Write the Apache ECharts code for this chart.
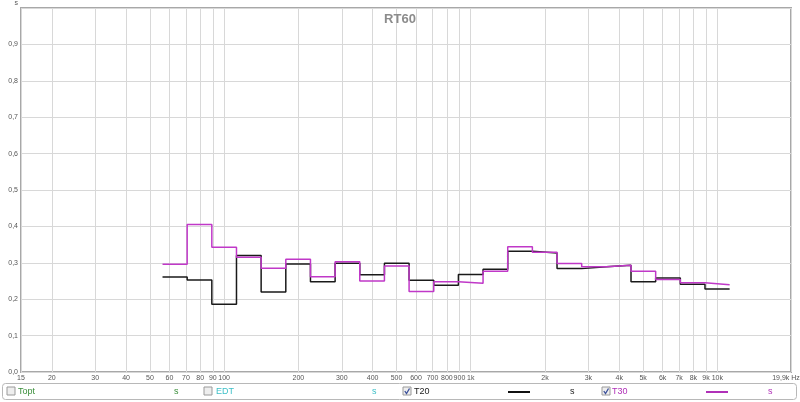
<!DOCTYPE html>
<html><head><meta charset="utf-8">
<script src="https://cdn.jsdelivr.net/npm/echarts@6/dist/echarts.min.js"></script>
<style>html,body{margin:0;padding:0;background:#fff}#c{width:800px;height:402px}</style>
</head><body><div id="c"></div><script>
// 1/3-octave band nominal centre frequencies (Hz)
const bands = [63,80,100,125,160,200,250,315,400,500,630,800,1000,1250,1600,2000,2500,3150,4000,5000,6300,8000,10000];
// RT60 values (s)
const t20 = [0.261,0.253,0.186,0.320,0.220,0.297,0.248,0.299,0.267,0.299,0.252,0.238,0.268,0.282,0.332,0.327,0.284,0.289,0.293,0.248,0.258,0.241,0.228];
const t30 = [0.296,0.405,0.343,0.315,0.285,0.310,0.262,0.303,0.250,0.291,0.221,0.248,0.244,0.277,0.344,0.329,0.298,0.289,0.293,0.277,0.254,0.245,0.240];
// axis ticks
const xTicks = [15,20,30,40,50,60,70,80,90,100,200,300,400,500,600,700,800,900,1000,2000,3000,4000,5000,6000,7000,8000,9000,10000,19900];
const xTickLabels = ['15','20','30','40','50','60','70','80','90','100','200','300','400','500','600','700','800','900','1k','2k','3k','4k','5k','6k','7k','8k','9k','10k','19,9k Hz'];
const yTickLabels = ['0,0','0,1','0,2','0,3','0,4','0,5','0,6','0,7','0,8','0,9','s'];

function exactCentre(f){ return 1000*Math.pow(10, Math.round(10*Math.log10(f/1000))/10); }
function stepData(vals){
  const d = bands.map((f,i)=>[exactCentre(f)*Math.pow(10,-0.05), vals[i]]);
  const last = bands.length-1;
  d.push([exactCentre(bands[last])*Math.pow(10,0.05), vals[last]]);
  return d;
}
const FONT = 'Liberation Sans, Arial, sans-serif';
const chart = echarts.init(document.getElementById('c'), null, {renderer:'canvas'});

function cb(x, checked){
  const els = [{type:'rect', shape:{x:x, y:387, width:8, height:8}, style:{fill:'#eeeeee', stroke:'#9a9a9a', lineWidth:1}}];
  if (checked) els.push({type:'polyline', shape:{points:[[x+1.8,391],[x+3.5,393.5],[x+6.5,388.5]]}, style:{stroke:'#3a4f9a', lineWidth:1.3, fill:null}});
  return els;
}
function txt(x, s, color){ return {type:'text', x:x, y:391.5, style:{text:s, fill:color, font:'9px '+FONT, textVerticalAlign:'middle', verticalAlign:'middle'}}; }

const graphics = [
  {type:'rect', shape:{x:2.5, y:383.5, width:794, height:16, r:3}, style:{fill:'#fff', stroke:'#b8b8b8', lineWidth:1}},
  ...cb(7,false), txt(18,'Topt','#3b8f3b'), txt(174,'s','#3b8f3b'),
  ...cb(204,false), txt(216,'EDT','#3fc0c8'), txt(372,'s','#3fc0c8'),
  ...cb(403,true), txt(414,'T20','#222'), {type:'line', shape:{x1:508,y1:392,x2:530,y2:392}, style:{stroke:'#111', lineWidth:2}}, txt(570,'s','#222'),
  ...cb(602,true), txt(612,'T30','#b030b8'), {type:'line', shape:{x1:706,y1:392,x2:728,y2:392}, style:{stroke:'#b030b8', lineWidth:2}}, txt(768,'s','#b030b8')
];

chart.setOption({
  animation:false,
  backgroundColor:'#fff',
  title:{text:'RT60', left:'center', top:8, textStyle:{color:'#8c8c8c', fontSize:13, fontWeight:'bold', fontFamily:FONT}},
  grid:{left:21, right:9, top:8, bottom:30, show:true, borderColor:'#a8a8a8', borderWidth:2, backgroundColor:'#fff', containLabel:false, outerBoundsMode:'none'},
  xAxis:{type:'log', logBase:10, min:15, max:19900,
    axisLine:{show:false},
    axisTick:{show:false, customValues:xTicks},
    axisLabel:{customValues:xTicks, color:'#555', fontSize:7, fontFamily:FONT, margin:3, showMinLabel:true, showMaxLabel:true, hideOverlap:false,
      rich:{last:{fontSize:7, color:'#555', fontFamily:FONT, padding:[0,10,0,0]}},
      formatter:function(v){ let best=0; for(let i=0;i<xTicks.length;i++){ if(Math.abs(Math.log10(xTicks[i])-Math.log10(v))<Math.abs(Math.log10(xTicks[best])-Math.log10(v))) best=i; } return best===xTicks.length-1 ? '{last|'+xTickLabels[best]+'}' : xTickLabels[best]; }},
    splitLine:{show:true, lineStyle:{color:'#d8d8d8', width:1}}
  },
  yAxis:{type:'value', min:0, max:1, interval:0.1,
    axisLine:{show:false}, axisTick:{show:false},
    axisLabel:{color:'#555', fontSize:7, fontFamily:FONT, margin:3,
      rich:{top:{fontSize:7, color:'#555', fontFamily:FONT, padding:[0,0,9,0]}},
      formatter:function(v){ const i=Math.round(v*10); return i===10 ? '{top|'+yTickLabels[i]+'}' : yTickLabels[i]; }},
    splitLine:{show:true, lineStyle:{color:'#d8d8d8', width:1}}
  },
  graphic: graphics,
  series:[
    {name:'T20', type:'line', step:'end', data:stepData(t20), showSymbol:false, symbol:'none', lineStyle:{color:'#1a1a1a', width:1.5}, z:3},
    {name:'T30', type:'line', step:'end', data:stepData(t30), showSymbol:false, symbol:'none', lineStyle:{color:'#c038c8', width:1.5}, z:4}
  ]
});
</script></body></html>
